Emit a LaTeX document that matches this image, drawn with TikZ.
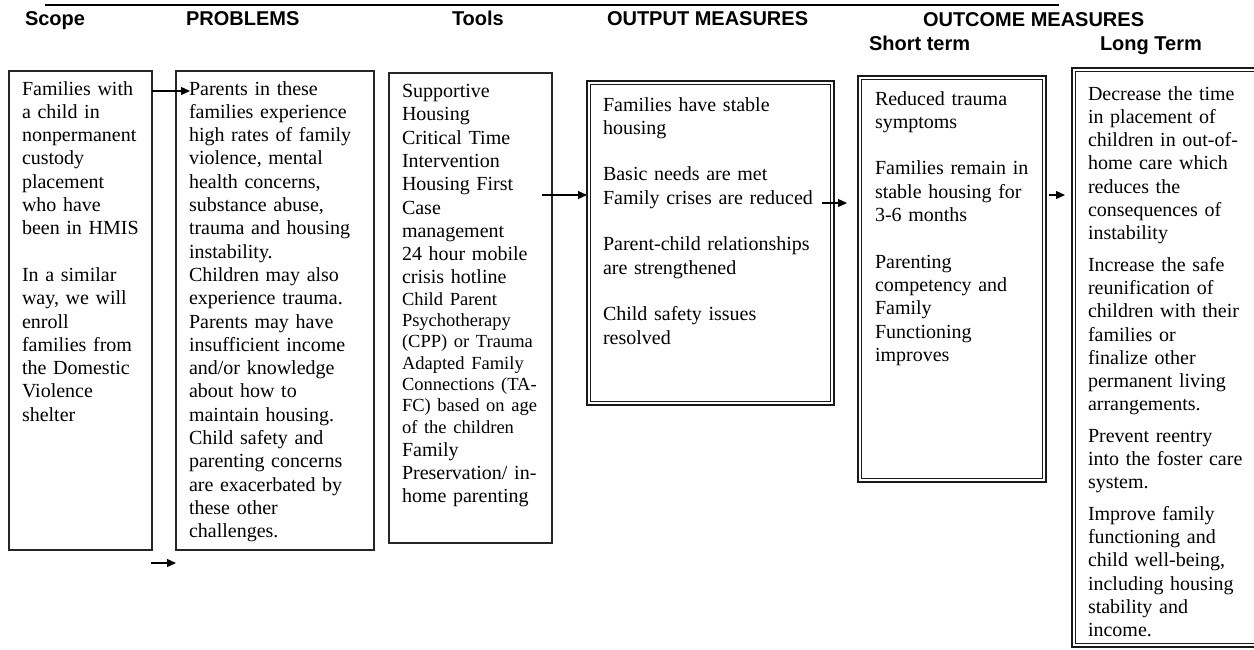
\documentclass[tikz,border=0pt]{standalone}
\usepackage{fontspec}
\setmainfont{Liberation Serif}
\newfontfamily\hdrfont{Liberation Sans}
\usetikzlibrary{arrows.meta,calc}
\newcommand\bodysz{\fontsize{20}{23.3}\selectfont}
\newcommand\smallsz{\fontsize{18.5}{21.3}\selectfont}
\setlength\parindent{0pt}
\setlength\parskip{0pt}
\begin{document}
\begin{tikzpicture}[x=1pt,y=-1pt,
  hdr/.style={anchor=base west, inner sep=0, outer sep=0, font=\hdrfont\bfseries\fontsize{20}{24}\selectfont},
  sbox/.style={draw=black!85, line width=1.2pt, anchor=north west, inner sep=0, outer sep=0},
  dbox/.style={draw=black!90, line width=2pt, anchor=north west, inner sep=0, outer sep=0},
  inbox/.style={draw=black!90, line width=1pt},
  txt/.style={anchor=north west, inner sep=0, outer sep=0, align=left, font=\bodysz},
  arr/.style={draw=black, line width=1.3pt, -{Triangle[length=9pt,width=8pt]}}
]
\useasboundingbox (0,0) rectangle (1254,649);
\clip (0,0) rectangle (1254,649);

% top rule
\draw[line width=2pt] (45,4.5) -- (1059,4.5);

% headers
\node[hdr] (h1) at (25,25) {Scope};
\node[hdr] (h2) at (186,25) {PROBLEMS};
\node[hdr] (h3) at (452,25) {Tools};
\node[hdr] (h4) at (607,25) {OUTPUT MEASURES};
\node[hdr] (h5) at (923,26) {OUTCOME MEASURES};
\node[hdr] (h6) at (869,50) {Short term};
\node[hdr] (h7) at (1100,50) {Long Term};

% boxes
\node[sbox, minimum width=143pt, minimum height=479pt] (b1) at (9,71) {};
\node[sbox, minimum width=198pt, minimum height=479pt] (b2) at (176,71) {};
\node[sbox, minimum width=163pt, minimum height=470pt] (b3) at (389,73) {};
\node[dbox, minimum width=247pt, minimum height=324pt] (b4) at (587,81) {};
\node[dbox, minimum width=188pt, minimum height=406pt] (b5) at (858,76) {};
\node[dbox, minimum width=190pt, minimum height=579pt] (b6) at (1072,68) {};
\foreach \b in {b4,b5,b6}{
  \draw[inbox] ([shift={(3.5,3.5)}]\b.north west) rectangle ([shift={(-3.5,-3.5)}]\b.south east);
}

% texts
\node[txt, text width=135pt] (t1) at (22,78.7) {\strut Families with\\
a child in\\
nonpermanent\\
custody\\
placement\\
who have\\
been in HMIS\\[23.3pt]
In a similar\\
way, we will\\
enroll\\
families from\\
the Domestic\\
Violence\\
shelter};

\node[txt, text width=190pt] (t2) at (189,78.7) {\strut Parents in these\\
families experience\\
high rates of family\\
violence, mental\\
health concerns,\\
substance abuse,\\
trauma and housing\\
instability.\\
Children may also\\
experience trauma.\\
Parents may have\\
insufficient income\\
and/or knowledge\\
about how to\\
maintain housing.\\
Child safety and\\
parenting concerns\\
are exacerbated by\\
these other\\
challenges.};

\node[txt, text width=160pt] (t3) at (402,81.2) {{\bodysz\strut Supportive\\
Housing\\
Critical Time\\
Intervention\\
Housing First\\
Case\\
management\\
24 hour mobile\\
crisis hotline\par}
{\smallsz Child Parent\\
Psychotherapy\\
(CPP) or Trauma\\
Adapted Family\\
Connections (TA-\\
FC) based on age\\
of the children\par}
{\bodysz Family\\
Preservation/ in-\\
home parenting\par}};

\node[txt, text width=228pt] (t4) at (603,94.7) {\strut Families have stable\\
housing\\[23.3pt]
Basic needs are met\\
Family crises are reduced\\[23.3pt]
Parent-child relationships\\
are strengthened\\[23.3pt]
Child safety issues\\
resolved};

\node[txt, text width=168pt] (t5) at (875,88.7) {\strut Reduced trauma\\
symptoms\\[23.3pt]
Families remain in\\
stable housing for\\
3-6 months\\[23.3pt]
Parenting\\
competency and\\
Family\\
Functioning\\
improves};

\node[txt, text width=170pt] (t6) at (1088,83.7) {\strut Decrease the time\\
in placement of\\
children in out-of-\\
home care which\\
reduces the\\
consequences of\\
instability\\[8pt]
Increase the safe\\
reunification of\\
children with their\\
families or\\
finalize other\\
permanent living\\
arrangements.\\[8pt]
Prevent reentry\\
into the foster care\\
system.\\[8pt]
Improve family\\
functioning and\\
child well-being,\\
including housing\\
stability and\\
income.};

% connectors
\draw[arr] ($(b1.north east)+(0,20)$) -- ($(b2.north west)+(14,20)$);
\draw[arr] ($(b1.south east)+(-1,13)$) -- ($(b2.south west)+(0,13)$);
\draw[arr] ($(b3.north east)+(-10,122)$) -- ($(b4.north west)+(0,114)$);
\draw[arr] ($(b4.north east)+(-12,122)$) -- ($(b5.north west)+(-11,127)$);
\draw[arr] ($(b5.north east)+(3,119)$) -- ($(b6.north west)+(-7,127)$);
\end{tikzpicture}
\end{document}
